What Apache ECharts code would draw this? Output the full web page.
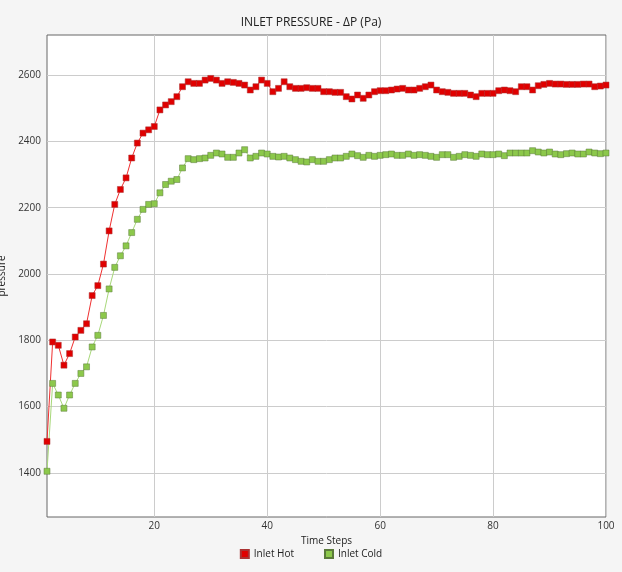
<!DOCTYPE html><html><head><meta charset="utf-8"><script src="https://cdn.jsdelivr.net/npm/echarts@6/dist/echarts.min.js"></script>
<style>html,body{margin:0;background:#f5f5f5}#c{width:622px;height:572px}</style></head><body><div id="c"></div><script>
const steps=Array.from({length:100},(_,i)=>i+1);
const inletHot=[1495,1795,1785,1725,1760,1810,1830,1850,1935,1965,2030,2130,2210,2255,2290,2350,2395,2425,2435,2445,2495,2510,2520,2535,2565,2580,2575,2575,2585,2590,2585,2575,2580,2578,2575,2570,2555,2565,2585,2575,2550,2560,2580,2565,2560,2560,2562,2560,2560,2550,2550,2548,2548,2535,2528,2540,2530,2540,2550,2553,2553,2555,2558,2560,2555,2555,2560,2565,2570,2555,2550,2548,2545,2545,2545,2540,2535,2545,2545,2545,2553,2555,2553,2550,2565,2565,2555,2568,2572,2575,2573,2573,2572,2572,2572,2573,2573,2565,2567,2570];
const inletCold=[1405,1670,1635,1595,1635,1670,1700,1720,1780,1815,1875,1955,2020,2055,2085,2125,2165,2195,2210,2212,2245,2270,2280,2285,2320,2348,2345,2348,2350,2358,2365,2362,2352,2352,2365,2375,2350,2355,2365,2362,2355,2353,2355,2350,2345,2340,2338,2345,2340,2340,2345,2350,2350,2355,2362,2357,2352,2358,2355,2358,2360,2362,2358,2358,2362,2358,2360,2358,2355,2352,2360,2360,2352,2355,2360,2358,2355,2362,2360,2360,2362,2357,2365,2365,2365,2365,2372,2368,2365,2368,2362,2360,2363,2365,2362,2362,2368,2365,2363,2365];
const yTicks=[1400,1600,1800,2000,2200,2400,2600];
const xTicks=[20,40,60,80,100];
const ch=echarts.init(document.getElementById('c'));
const f='"Segoe UI","Open Sans",sans-serif';
ch.setOption({backgroundColor:'#f5f5f5',textStyle:{fontFamily:f},animation:false,
title:{text:'INLET PRESSURE - ΔP (Pa)',left:'center',top:12,textStyle:{fontSize:12,fontWeight:'normal',color:'#222'}},
legend:{bottom:8,itemWidth:8,itemHeight:8,itemGap:30,icon:'rect',textStyle:{fontSize:10,color:'#222'}},
grid:{left:47,right:16,top:35,bottom:55,containLabel:false,outerBoundsMode:'none',show:true,backgroundColor:'#fff',borderColor:'#666',borderWidth:1},
xAxis:{type:'value',min:1,max:100,name:'Time Steps',nameLocation:'middle',nameGap:16,nameTextStyle:{fontSize:10,color:'#222'},
axisLine:{show:false},axisTick:{show:false,customValues:xTicks},axisLabel:{customValues:xTicks,fontSize:10,color:'#333',margin:4,formatter:v=>String(v)},splitLine:{show:true,lineStyle:{color:'#ccc'}}},
yAxis:{type:'value',min:1267,max:2721,name:'pressure',nameLocation:'middle',nameGap:30,nameTextStyle:{fontSize:10,color:'#222'},
axisLine:{show:false},axisTick:{show:false,customValues:yTicks},axisLabel:{customValues:yTicks,fontSize:10,color:'#333',margin:6,formatter:v=>String(v)},splitLine:{show:true,lineStyle:{color:'#ccc'}}},
series:[{name:'Inlet Hot',type:'line',data:steps.map((s,i)=>[s,inletHot[i]]),symbol:'rect',symbolSize:6,color:'#e00000',lineStyle:{width:1,color:'#f03030'},itemStyle:{color:'#e00000',borderColor:'#a33',borderWidth:0.5}},
{name:'Inlet Cold',type:'line',data:steps.map((s,i)=>[s,inletCold[i]]),symbol:'rect',symbolSize:6,color:'#8cc84b',lineStyle:{width:1,color:'#a8d87a'},itemStyle:{color:'#8cc84b',borderColor:'#5a7a3a',borderWidth:0.5}}]});
</script></body></html>
